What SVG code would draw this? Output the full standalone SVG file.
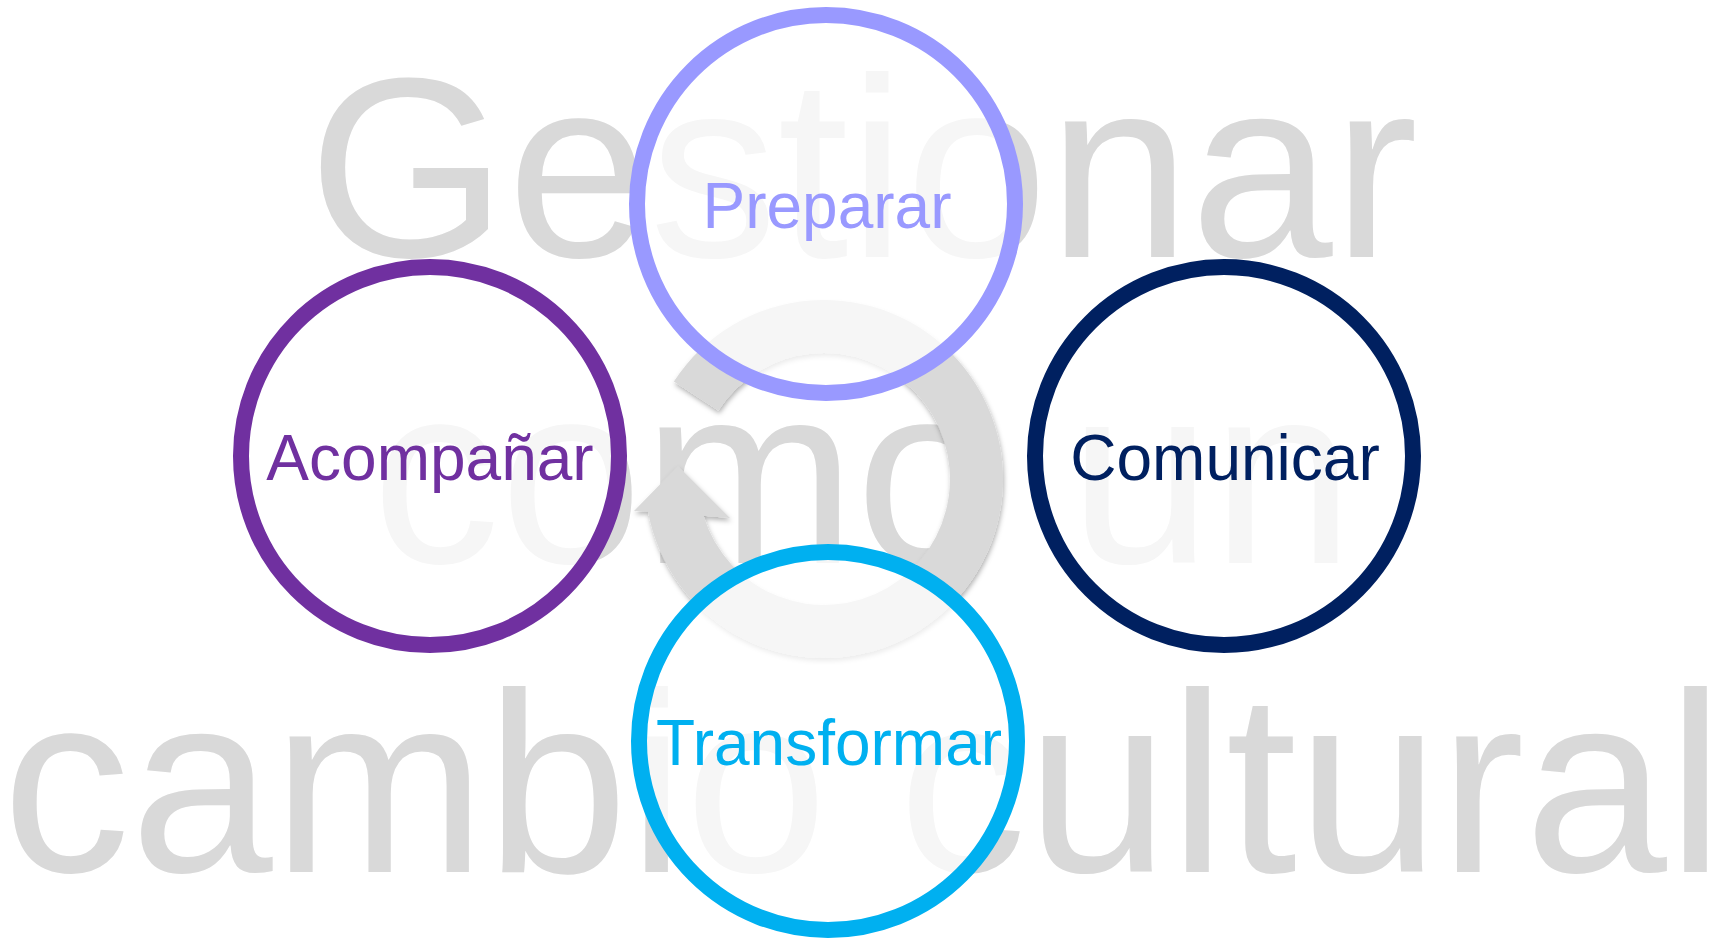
<svg xmlns="http://www.w3.org/2000/svg" width="1721" height="938" viewBox="0 0 1721 938">
  <style>
    .bg { font-family: "Liberation Sans", Arial, sans-serif; font-size: 256px; fill: #D9D9D9; text-anchor: middle; }
    .node circle { fill: #FFFFFF; fill-opacity: 0.75; stroke-width: 16; }
    .node text { font-family: "Liberation Sans", Arial, sans-serif; font-size: 64px; text-anchor: middle; }
  </style>
  <defs>
    <filter id="shadow" x="-20%" y="-20%" width="140%" height="140%">
      <feDropShadow dx="1" dy="3" stdDeviation="2.5" flood-color="#000000" flood-opacity="0.3"/>
    </filter>
  </defs>
  <rect width="1721" height="938" fill="#FFFFFF"/>
  <g id="background-text">
    <text class="bg" x="863" y="257">Gestionar</text>
    <text class="bg" x="863" y="563">como un</text>
    <text class="bg" x="863" y="872">cambio cultural</text>
  </g>
  <g id="connectors">
    <path d="M673.88,381.51 A179,179 0 1 1 647.94,511.31 L634,511 L678,466 L730,518 L703.51,515.84 A126,126 0 1 0 718.33,410.38 Z" fill="#D9D9D9" filter="url(#shadow)"/>
  </g>
  <g id="node-preparar" class="node">
    <circle cx="826" cy="204" r="189" stroke="#9999FF"/>
    <text x="827" y="228" fill="#9999FF">Preparar</text>
  </g>
  <g id="node-acompanar" class="node">
    <circle cx="430" cy="456" r="189" stroke="#7030A0"/>
    <text x="430" y="480" fill="#7030A0">Acompañar</text>
  </g>
  <g id="node-comunicar" class="node">
    <circle cx="1224" cy="456" r="189" stroke="#002060"/>
    <text x="1225" y="480" fill="#002060">Comunicar</text>
  </g>
  <g id="node-transformar" class="node">
    <circle cx="828" cy="741" r="189" stroke="#00B0F0"/>
    <text x="829" y="765" fill="#00B0F0">Transformar</text>
  </g>
</svg>
